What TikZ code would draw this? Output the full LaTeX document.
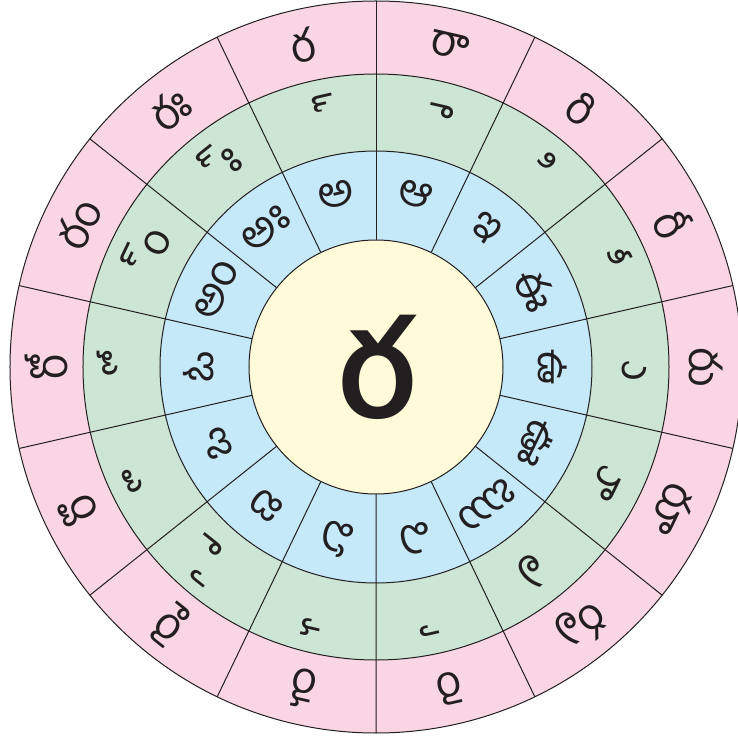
\documentclass[tikz,border=0pt]{standalone}
\usepackage{fontspec}
\newfontfamily\telfont[Script=Telugu]{Hind Guntur}
\definecolor{outerpink}{RGB}{250,214,228}
\definecolor{midgreen}{RGB}{204,229,213}
\definecolor{innerblue}{RGB}{198,233,250}
\definecolor{coreyellow}{RGB}{255,250,215}
\definecolor{inkblack}{RGB}{35,31,32}

\begin{document}
\begin{tikzpicture}[
    x=0.5bp, y=0.5bp,
    ring/.style={draw=inkblack, line width=0.5bp},
    letter/.style={text=inkblack, inner sep=0pt, font=\telfont\fontsize{22}{22}\selectfont},
    corechar/.style={text=inkblack, inner sep=0pt, font=\telfont\bfseries\fontsize{66}{66}\selectfont}
]
\useasboundingbox (-376,-375) rectangle (362,367);
\clip (-376,-375) rectangle (362,367);
% rings
\filldraw[ring, fill=outerpink] (0,0) circle (366);
\filldraw[ring, fill=midgreen] (0,0) circle (293);
\filldraw[ring, fill=innerblue] (0,0) circle (216);
\foreach \a in {0,...,13}
  \draw[ring] (90-\a*25.714:127) -- (90-\a*25.714:366);
\filldraw[ring, fill=coreyellow] (0,0) circle (127);
\node[corechar] (core) at (0,0) {ర};
% vowel / sign / syllable, clockwise from top left
\foreach \v/\s/\k [count=\i] in {అ/్/ర, ఆ/ా/రా, ఇ/ి/రి, ఈ/ీ/రీ, ఉ/ు/రు, ఊ/ూ/రూ, ఋ/ృ/రృ,
    ఎ/ె/రె, ఏ/ే/రే, ఐ/ై/రై, ఒ/ొ/రొ, ఓ/ో/రో, అం/్ం/రం, అః/్ః/రః}{
  \pgfmathsetmacro\ang{102.857-(\i-1)*25.714}
  \node[letter, rotate=\ang-90] (v\i) at (\ang:177) {\v};
  \node[letter, rotate=\ang-90] (s\i) at (\ang:258) {^^^^00a0\s};
  \node[letter, rotate=\ang-90] (k\i) at (\ang:330) {\k};
}
\end{tikzpicture}
\end{document}
